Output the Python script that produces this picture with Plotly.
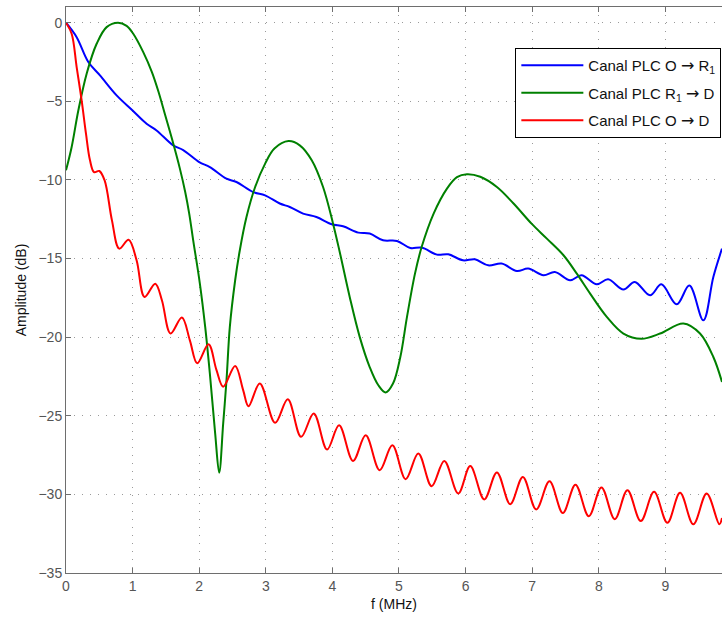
import plotly.graph_objects as go

# Canal PLC O -> R1 (blue)
f_or1 = [0, 0.16, 0.335, 0.51, 0.76, 1.0, 1.21, 1.36, 1.61, 1.76, 2.0, 2.16, 2.41, 2.56,
         2.81, 2.99, 3.21, 3.36, 3.56, 3.76, 3.99, 4.16, 4.39, 4.56, 4.76, 4.97, 5.17, 5.34,
         5.57, 5.74, 5.96, 6.14, 6.34, 6.54, 6.77, 6.94, 7.17, 7.34, 7.57, 7.74, 7.97, 8.14,
         8.37, 8.54, 8.77, 8.94, 9.17, 9.36, 9.57, 9.72, 9.85]
a_or1 = [0, -0.92, -2.5, -3.35, -4.62, -5.58, -6.42, -6.85, -7.8, -8.1, -8.86, -9.18, -9.92, -10.13,
         -10.77, -10.98, -11.5, -11.72, -12.14, -12.36, -12.82, -12.95, -13.35, -13.41, -13.84, -13.88, -14.33, -14.3,
         -14.75, -14.73, -15.11, -15.05, -15.43, -15.32, -15.79, -15.64, -16.06, -15.85, -16.38, -16.06, -16.64, -16.32,
         -16.97, -16.49, -17.34, -16.64, -17.91, -16.72, -18.93, -16.17, -14.37]

# Canal PLC R1 -> D (green)
f_r1d = [0, 0.085, 0.185, 0.31, 0.46, 0.61, 0.78, 0.91, 1.01, 1.16, 1.29, 1.39, 1.49, 1.59, 1.71,
         1.79, 1.85, 1.91, 2.01, 2.09, 2.16, 2.24, 2.30, 2.36, 2.41, 2.46, 2.54, 2.61, 2.71, 2.84,
         2.99, 3.13, 3.34, 3.51, 3.69, 3.86, 4.01, 4.11, 4.26, 4.41, 4.56, 4.69, 4.80, 4.91, 5.02,
         5.12, 5.24, 5.34, 5.52, 5.72, 5.87, 6.02, 6.22, 6.47, 6.72, 6.99, 7.22, 7.47, 7.67, 7.87,
         8.12, 8.37, 8.64, 8.92, 9.27, 9.52, 9.72, 9.85]
a_r1d = [-9.39, -7.9, -5.58, -3.24, -1.34, -0.28, 0.0, -0.2, -0.7, -1.87, -3.14, -4.41, -5.89, -7.37, -9.28,
         -10.77, -12.14, -13.84, -16.59, -19.35, -22.31, -26.13, -28.62, -25.5, -22.74, -19.35, -16.38, -14.47, -12.36, -10.45,
         -8.96, -8.0, -7.53, -7.8, -8.75, -10.45, -12.78, -14.58, -17.44, -19.98, -21.9, -23.06, -23.52, -22.95, -21.26,
         -18.71, -15.96, -14.27, -12.14, -10.55, -9.82, -9.64, -9.8, -10.45, -11.5, -12.78, -13.73, -14.79, -15.96, -17.23,
         -18.71, -19.77, -20.1, -19.77, -19.13, -19.77, -21.26, -22.85]

# Canal PLC O -> D (red)
f_od = [0, 0.085, 0.16, 0.235, 0.3, 0.36, 0.42, 0.5, 0.58, 0.69, 0.8, 0.94, 1.06, 1.18, 1.34, 1.44,
        1.57, 1.74, 1.86, 1.97, 2.14, 2.26, 2.36, 2.54, 2.66, 2.74, 2.91, 3.14, 3.33, 3.53, 3.72,
        3.92, 4.10, 4.31, 4.50, 4.71, 4.90, 5.10, 5.29, 5.49, 5.68, 5.89, 6.07, 6.28, 6.47, 6.67,
        6.86, 7.06, 7.26, 7.46, 7.65, 7.85, 8.04, 8.24, 8.43, 8.63, 8.83, 9.03, 9.22, 9.42, 9.62, 9.81, 9.85]
a_od = [0, -0.7, -2.82, -4.94, -7.06, -8.75, -9.5, -9.43, -10.03, -12.57, -14.37, -13.8, -15.11, -17.44, -16.6, -17.65,
        -19.77, -18.75, -20.2, -21.66, -20.45, -22.1, -23.15, -21.83, -23.37, -24.39, -22.95, -25.45, -23.95, -26.34, -24.86,
        -27.15, -25.6, -27.87, -26.24, -28.46, -26.87, -29.03, -27.4, -29.48, -27.87, -29.94, -28.2, -30.32, -28.6, -30.62,
        -28.89, -30.96, -29.17, -31.18, -29.38, -31.39, -29.56, -31.58, -29.73, -31.7, -29.84, -31.81, -29.9, -31.9, -29.94, -31.9, -31.5]

x_ticks = [0, 1, 2, 3, 4, 5, 6, 7, 8, 9]
y_ticks = [0, -5, -10, -15, -20, -25, -30, -35]

FONT = "Liberation Sans, Arial, sans-serif"
ARROW = "<span style=\"font-family:DejaVu Sans;font-size:16px\">→</span>"

fig = go.Figure()
fig.add_trace(go.Scatter(x=f_or1, y=a_or1, mode="lines", legendgroup="a",
                         name="Canal PLC O " + ARROW + " R<sub>1</sub>",
                         line=dict(color="#0000ff", width=2, shape="spline", smoothing=1)))
fig.add_trace(go.Scatter(x=f_r1d, y=a_r1d, mode="lines", legendgroup="b",
                         name="Canal PLC R<sub>1</sub> " + ARROW + " D",
                         line=dict(color="#008000", width=2, shape="spline", smoothing=1)))
fig.add_trace(go.Scatter(x=f_od, y=a_od, mode="lines", legendgroup="c",
                         name="Canal PLC O " + ARROW + " D",
                         line=dict(color="#ff0000", width=2, shape="spline", smoothing=1)))

axis_common = dict(
    showline=True, linecolor="#6e6e6e", linewidth=1,
    ticks="inside", ticklen=5, tickcolor="#6e6e6e",
    showgrid=True, gridcolor="#9a9a9a", griddash="1px,7px", gridwidth=1,
    zeroline=False,
    tickfont=dict(family=FONT, size=14, color="#555555"),
    title_font=dict(family=FONT, size=14, color="#111111"),
)

fig.update_layout(
    width=722, height=621,
    margin=dict(l=66, r=0, t=7, b=48),
    paper_bgcolor="white", plot_bgcolor="white",
    font=dict(family=FONT, size=14, color="#111111"),
    xaxis=dict(range=[0, 9.85], tickvals=x_ticks, mirror="ticks",
               title=dict(text="f (MHz)", standoff=6), **axis_common),
    yaxis=dict(range=[-35, 1], tickvals=y_ticks, mirror=False,
               title=dict(text="Amplitude (dB)", standoff=8), **axis_common),
    legend=dict(x=0.999, xanchor="right", y=0.9276, yanchor="top",
                bgcolor="white", bordercolor="black", borderwidth=1,
                font=dict(family=FONT, size=15, color="#111111"),
                itemwidth=62, traceorder="grouped", tracegroupgap=5),
    showlegend=True,
)

fig.write_html("out.html")
